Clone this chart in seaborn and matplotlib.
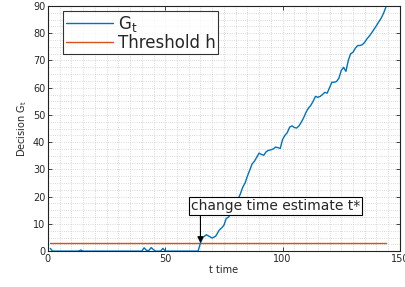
"""CUSUM-style decision statistic G_t against a fixed threshold h."""
import numpy as np
import pandas as pd
import matplotlib
matplotlib.use("Agg")
import matplotlib.pyplot as plt
from matplotlib.ticker import MultipleLocator
import seaborn as sns

# values
t_vals = [1, 2, 13, 14, 15, 40, 41, 42, 43, 44, 45, 46, 48, 49, 50, 64,
          65, 66, 67.5, 69, 70, 71.5, 73, 74, 75, 76, 77, 78, 79, 80,
          81, 82, 83, 84, 85, 86, 87, 88, 89, 90, 91, 92, 93, 94, 95,
          96, 97, 98, 99, 100, 101, 102, 103, 104, 105, 106, 107, 108,
          109, 110, 111, 112, 113, 114, 115, 116, 117, 118, 119, 120,
          121, 122, 123, 124, 125, 126, 127, 128, 129, 130, 131, 132,
          133, 134, 135, 136, 137, 138, 139, 140, 141, 142, 143, 144]
g_vals = [1.0, 0, 0, 0.4, 0, 0, 1.2, 0.3, 0.2, 1.3, 0.5, 0, 0, 1.0, 0, 0,
          3.0, 5.0, 6.0, 5.3, 4.8, 5.5, 7.7, 8.5, 9.5, 12.0, 12.5, 13.9, 14.5, 16.0,
          19.0, 21.0, 23.4, 25.0, 27.5, 29.7, 32.0, 33.0, 34.5, 36.0, 35.5, 35.2, 36.5, 37.0, 37.2,
          37.5, 38.2, 38.0, 37.7, 41.0, 42.5, 43.5, 45.5, 46.0, 45.4, 45.2, 46.0, 47.4,
          49.0, 51.0, 52.5, 53.5, 55.0, 56.8, 56.5, 56.8, 57.5, 58.3, 58.0, 60.0,
          62.0, 62.0, 62.3, 63.5, 66.3, 67.5, 66.0, 70.0, 72.5, 73.0, 74.5, 75.5,
          75.5, 75.8, 76.7, 78.0, 79.0, 80.2, 81.5, 82.8, 84.2, 85.5, 87.3, 89.5]
threshold_t = [1, 144]
threshold_h = [3, 3]
change_t = 65
change_g = 3

blue = "#0072BD"
orange = "#D95319"

sns.set_style("ticks")
plt.rcParams['font.family'] = ['DejaVu Sans']

fig = plt.figure(figsize=(4.06, 2.87), dpi=100)
ax = fig.add_axes([0.118, 0.125, 0.867, 0.854])

df = pd.DataFrame({'t': t_vals, 'G': g_vals})
dh = pd.DataFrame({'t': threshold_t, 'h': threshold_h})
sns.lineplot(data=df, x='t', y='G', ax=ax, color=blue, lw=1.0,
             label=r'G$_\mathregular{t}$', zorder=3)
sns.lineplot(data=dh, x='t', y='h', ax=ax, color=orange, lw=1.0,
             label='Threshold h', zorder=2)

ax.set_xlim(0, 150)
ax.set_ylim(0, 90)
ax.xaxis.set_major_locator(MultipleLocator(50))
ax.xaxis.set_minor_locator(MultipleLocator(5))
ax.yaxis.set_major_locator(MultipleLocator(10))
ax.yaxis.set_minor_locator(MultipleLocator(2.5))
ax.grid(which='both', color='#cccccc', ls=':', lw=0.6)
ax.tick_params(which='major', direction='in', length=3, width=0.6,
               labelsize=7, top=True, right=True, pad=2)
ax.tick_params(which='minor', length=0)
for s in ax.spines.values():
    s.set_linewidth(0.8)
    s.set_color('#222222')

ax.set_xlabel('t time', fontsize=7, labelpad=1)
ax.set_ylabel(r'Decision G$_\mathregular{t}$', fontsize=7, labelpad=3)

leg = ax.legend(loc='upper left', fontsize=12, frameon=True, fancybox=False,
                borderaxespad=0.3, handlelength=2.8, handletextpad=0.3,
                borderpad=0.15, labelspacing=0.0, bbox_to_anchor=(0.03, 1.0))
leg.get_frame().set_edgecolor('black')
leg.get_frame().set_linewidth(0.8)

ax.annotate('', xy=(change_t, change_g), xytext=(change_t, 13.2),
            arrowprops=dict(arrowstyle='-|>', color='black', lw=0.8,
                            mutation_scale=9, shrinkA=0, shrinkB=0))
ax.text(60.8, 14.0, 'change time estimate t*', fontsize=10, ha='left', va='bottom',
        bbox=dict(boxstyle='square,pad=0.15', fc='white', ec='black', lw=0.8))

fig.savefig('out.png', dpi=100)
